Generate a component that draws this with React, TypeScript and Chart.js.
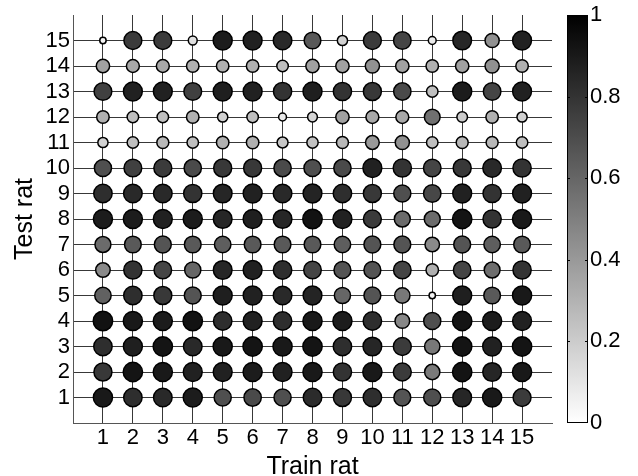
import React, { useEffect, useRef } from 'react';
import { Chart, registerables } from 'chart.js';

Chart.register(...registerables);

// Train rat (columns) and test rat (rows) identifiers
const trainRats = [1, 2, 3, 4, 5, 6, 7, 8, 9, 10, 11, 12, 13, 14, 15];
const testRats = [1, 2, 3, 4, 5, 6, 7, 8, 9, 10, 11, 12, 13, 14, 15];

// Values per test rat (row), ordered by train rat 1..15
const test1 = [0.90, 0.82, 0.84, 0.89, 0.69, 0.71, 0.69, 0.83, 0.78, 0.82, 0.67, 0.69, 0.85, 0.90, 0.77];
const test2 = [0.78, 0.92, 0.90, 0.87, 0.87, 0.89, 0.87, 0.90, 0.80, 0.90, 0.77, 0.52, 0.92, 0.85, 0.90];
const test3 = [0.82, 0.88, 0.92, 0.84, 0.90, 0.92, 0.90, 0.92, 0.82, 0.85, 0.77, 0.53, 0.92, 0.87, 0.92];
const test4 = [0.93, 0.90, 0.89, 0.93, 0.82, 0.87, 0.82, 0.90, 0.89, 0.82, 0.47, 0.69, 0.92, 0.89, 0.87];
const test5 = [0.62, 0.82, 0.78, 0.67, 0.88, 0.87, 0.84, 0.86, 0.60, 0.67, 0.53, 0.04, 0.88, 0.65, 0.90];
const test6 = [0.46, 0.80, 0.73, 0.60, 0.85, 0.87, 0.82, 0.73, 0.67, 0.67, 0.73, 0.31, 0.73, 0.57, 0.80];
const test7 = [0.58, 0.65, 0.67, 0.65, 0.63, 0.65, 0.65, 0.65, 0.63, 0.67, 0.67, 0.46, 0.67, 0.63, 0.65];
const test8 = [0.89, 0.89, 0.87, 0.89, 0.85, 0.88, 0.85, 0.93, 0.87, 0.77, 0.58, 0.58, 0.92, 0.80, 0.90];
const test9 = [0.82, 0.84, 0.84, 0.80, 0.85, 0.87, 0.84, 0.86, 0.82, 0.78, 0.69, 0.72, 0.87, 0.80, 0.87];
const test10 = [0.69, 0.75, 0.77, 0.71, 0.78, 0.78, 0.71, 0.69, 0.71, 0.87, 0.80, 0.73, 0.78, 0.84, 0.80];
const test11 = [0.18, 0.25, 0.28, 0.25, 0.31, 0.31, 0.22, 0.24, 0.28, 0.40, 0.43, 0.25, 0.28, 0.28, 0.25];
const test12 = [0.31, 0.25, 0.25, 0.31, 0.18, 0.25, 0.08, 0.16, 0.37, 0.34, 0.34, 0.56, 0.20, 0.31, 0.18];
const test13 = [0.75, 0.87, 0.87, 0.75, 0.88, 0.87, 0.80, 0.88, 0.80, 0.78, 0.71, 0.25, 0.89, 0.73, 0.87];
const test14 = [0.37, 0.34, 0.34, 0.31, 0.31, 0.31, 0.25, 0.37, 0.37, 0.43, 0.37, 0.31, 0.37, 0.43, 0.31];
const test15 = [0.04, 0.77, 0.77, 0.12, 0.89, 0.87, 0.84, 0.65, 0.18, 0.77, 0.73, 0.08, 0.85, 0.43, 0.87];

const scoreRows = [test1, test2, test3, test4, test5, test6, test7, test8, test9, test10, test11, test12, test13, test14, test15];

const colorbarTicks = [0, 0.2, 0.4, 0.6, 0.8, 1];

const FONT = 'Liberation Sans, Arial, Helvetica, sans-serif';
const TICK_SIZE = 22;
const TITLE_SIZE = 25;

function grayOf(v: number) {
  const g = Math.round(255 * (1 - v));
  return `rgb(${g},${g},${g})`;
}
function radiusOf(v: number) {
  return 1.5 + 8.5 * Math.sqrt(v);
}

const colorbarPlugin = {
  id: 'colorbar',
  afterDraw(chart: any) {
    const s = chart.scales.cb;
    const ctx = chart.ctx;
    const x0 = Math.round(s.left + 15);
    const w = 21;
    const top = Math.round(s.getPixelForValue(1));
    const bottom = Math.round(s.getPixelForValue(0));
    ctx.save();
    const g = ctx.createLinearGradient(0, bottom, 0, top);
    g.addColorStop(0, '#ffffff');
    g.addColorStop(1, '#000000');
    ctx.fillStyle = g;
    ctx.fillRect(x0, top, w, bottom - top);
    ctx.strokeStyle = '#000';
    ctx.lineWidth = 1;
    ctx.strokeRect(x0 + 0.5, top + 0.5, w - 1, bottom - top - 1);
    ctx.beginPath();
    colorbarTicks.forEach((t) => {
      if (t <= 0 || t >= 1) return;
      const y = Math.round(s.getPixelForValue(t)) + 0.5;
      ctx.moveTo(x0, y);
      ctx.lineTo(x0 + 3, y);
      ctx.moveTo(x0 + w - 3, y);
      ctx.lineTo(x0 + w, y);
    });
    ctx.stroke();
    ctx.restore();
  },
};

export default function App() {
  const ref = useRef<HTMLCanvasElement | null>(null);

  useEffect(() => {
    document.body.style.margin = '0';
    const canvas = ref.current;
    if (!canvas) return;

    const points: any[] = [];
    testRats.forEach((ty, ri) => {
      trainRats.forEach((tx, ci) => {
        const v = scoreRows[ri][ci];
        points.push({ x: tx, y: ty, r: radiusOf(v), v });
      });
    });

    const gridColor = (c: any) =>
      c.tick && c.tick.value >= 1 && c.tick.value <= 15 ? '#383838' : 'rgba(0,0,0,0)';
    const intLabel = (v: any) => (v >= 1 && v <= 15 ? String(v) : '');
    const noVPad = (s: any) => {
      s.paddingTop = 0;
      s.paddingBottom = 0;
    };

    const chart = new Chart(canvas, {
      type: 'bubble',
      data: {
        datasets: [
          {
            data: points,
            backgroundColor: points.map((p) => grayOf(p.v)),
            borderColor: '#000',
            borderWidth: 1.5,
            hoverRadius: 0,
          } as any,
        ],
      },
      options: {
        responsive: false,
        animation: false,
        devicePixelRatio: 1,
        layout: { padding: { top: 15, left: 0, right: 0, bottom: 0 } },
        plugins: { legend: { display: false }, tooltip: { enabled: false } },
        scales: {
          x: {
            type: 'linear',
            position: 'bottom',
            min: 0,
            max: 16,
            ticks: {
              stepSize: 1,
              autoSkip: false,
              maxRotation: 0,
              padding: 2,
              color: '#000',
              font: { family: FONT, size: TICK_SIZE },
              callback: intLabel,
            },
            grid: { color: gridColor, drawTicks: false, lineWidth: 1 },
            border: { display: true, color: '#555', width: 1 },
            title: {
              display: true,
              text: 'Train rat',
              color: '#000',
              font: { family: FONT, size: TITLE_SIZE, lineHeight: 1 },
              padding: { top: 0, bottom: -4 },
            },
            afterFit: (s: any) => {
              s.height = 53;
              s.paddingLeft = 0;
              s.paddingRight = 0;
            },
          },
          y: {
            type: 'linear',
            position: 'left',
            min: 0,
            max: 16,
            ticks: {
              stepSize: 1,
              autoSkip: false,
              padding: 3,
              color: '#000',
              font: { family: FONT, size: TICK_SIZE },
              callback: intLabel,
            },
            grid: { color: gridColor, drawTicks: false, lineWidth: 1 },
            border: { display: true, color: '#555', width: 1 },
            title: {
              display: true,
              text: 'Test rat',
              color: '#000',
              font: { family: FONT, size: TITLE_SIZE, lineHeight: 1 },
              padding: { top: 12.5, bottom: 0 },
            },
            afterFit: (s: any) => {
              s.width = 73;
              noVPad(s);
            },
          },
          cb: {
            type: 'linear',
            position: 'right',
            display: true,
            min: 0,
            max: 1,
            ticks: {
              stepSize: 0.2,
              padding: 38,
              color: '#000',
              font: { family: FONT, size: TICK_SIZE },
              callback: (v: any) => String(Math.round(Number(v) * 10) / 10),
            },
            grid: { display: false, drawTicks: false },
            border: { display: false },
            afterFit: (s: any) => {
              s.width = 86;
              noVPad(s);
            },
          },
        },
      } as any,
      plugins: [colorbarPlugin],
    });

    return () => chart.destroy();
  }, []);

  return <canvas ref={ref} width={638} height={476} style={{ display: 'block' }} />;
}
